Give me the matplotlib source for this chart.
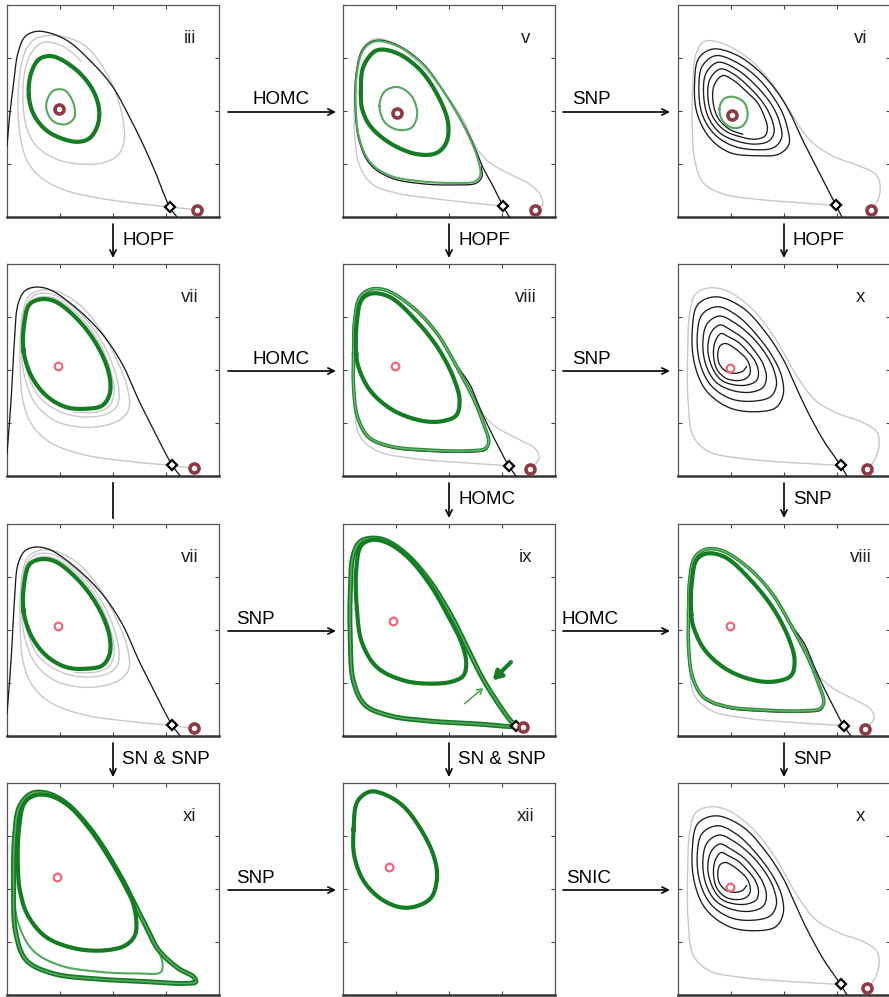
import numpy as np
import matplotlib
matplotlib.use("Agg")
import matplotlib.pyplot as plt

plt.rcParams['font.family'] = ['Liberation Sans', 'DejaVu Sans']

# ---------------------------------------------------------------------------
# Phase-portrait curves, in panel units (each panel spans 0..640 on both axes)
# ---------------------------------------------------------------------------

# panel iii
III_BLACK = [(513, 0), (491, 30), (448, 135), (408, 225), (368, 305), (318, 395), (258, 465),
             (178, 535), (108, 560), (78, 558), (53, 543), (33, 495), (20, 405), (8, 305), (0, 215)]
III_GRAY = [(491, 30), (398, 40), (278, 57), (178, 80), (108, 115), (63, 165), (40, 245), (33, 335),
            (38, 425), (53, 495), (78, 533), (118, 547), (178, 543), (238, 515), (288, 455), (328, 375),
            (350, 295), (353, 225), (333, 185), (288, 163), (218, 160), (148, 175), (88, 215), (58, 275),
            (48, 355), (53, 435), (73, 495), (108, 527), (158, 520), (198, 495), (223, 470)]
III_GRAY_NODE = [(491, 30), (533, 26), (573, 22)]
III_CYCLE = [(66, 365), (73, 435), (98, 477), (138, 485), (208, 445), (258, 385), (278, 325),
             (273, 275), (248, 237), (208, 227), (128, 255), (83, 305)]
III_INNER = [(118, 335), (138, 380), (173, 383), (200, 345), (203, 300), (178, 280), (138, 290)]

# panel v
V_GRAY = [(483, 33), (382, 43), (262, 57), (162, 72), (87, 100), (50, 155), (36, 235), (34, 335),
          (40, 435), (57, 505), (92, 537), (142, 530), (212, 480), (292, 395), (362, 295), (402, 210),
          (442, 165), (502, 130), (562, 100), (597, 65), (602, 35), (579, 22)]
V_BLACK = [(502, 0), (483, 33), (452, 95), (422, 150), (402, 200), (372, 265), (312, 367), (242, 463),
           (162, 520), (97, 533), (60, 507), (40, 435), (37, 325), (48, 233), (80, 161), (142, 119),
           (242, 100), (342, 97), (402, 102), (420, 123), (417, 150)]
V_OUTER = [(39, 325), (42, 435), (62, 505), (97, 530), (162, 517), (242, 460), (312, 365), (372, 260),
           (407, 175), (414, 125), (397, 107), (342, 103), (242, 107), (142, 125), (82, 165), (50, 235)]
V_CYCLE = [(54, 375), (62, 455), (102, 503), (162, 495), (232, 445), (287, 365), (317, 285),
           (312, 225), (282, 193), (222, 190), (142, 223), (82, 275), (58, 325)]
V_INNER = [(110, 335), (127, 380), (167, 392), (207, 365), (224, 310), (207, 270), (167, 263), (127, 285)]

# panel vi
VI_GRAY = [(477, 35), (365, 43), (245, 53), (135, 70), (75, 105), (50, 175), (43, 275), (45, 405),
           (55, 495), (80, 530), (125, 527), (205, 485), (275, 415), (335, 325), (395, 235), (465, 185),
           (545, 155), (600, 125), (610, 75), (595, 35), (583, 20)]
VI_INNER = [(125, 325), (137, 355), (165, 363), (200, 345), (210, 305), (195, 275), (165, 269), (135, 290)]
VI_BLACK = [(495, 0), (477, 35), (415, 155), (375, 235), (343, 305),
            (305, 370), (245, 440), (175, 490), (105, 507), (63, 480), (50, 405), (57, 315), (95, 240),
            (155, 195), (235, 185), (305, 190), (335, 220), (330, 270),
            (310, 325), (250, 410), (180, 465), (113, 487), (73, 455), (63, 390), (73, 310), (110, 250),
            (165, 215), (235, 203), (290, 210), (313, 240), (307, 285),
            (285, 335), (235, 397), (175, 447), (120, 467), (85, 435), (77, 375), (90, 305), (125, 255),
            (175, 230), (235, 220), (275, 230), (290, 255), (283, 295),
            (260, 340), (220, 387), (170, 430), (128, 447), (97, 417), (90, 365), (105, 303), (140, 262),
            (185, 243), (235, 235), (263, 245), (270, 270), (260, 305),
            (240, 345), (205, 380), (167, 413), (135, 427), (110, 400), (105, 355), (120, 300), (155, 265),
            (195, 250)]

# panel vii
VII_BLACK = [(523, 0), (499, 32), (448, 128), (398, 228), (348, 338), (288, 428), (208, 508),
             (128, 563), (83, 570), (53, 558), (33, 518), (23, 418), (16, 288), (8, 168), (0, 68)]
VII_GRAY = [(499, 32), (378, 43), (228, 65), (128, 103), (73, 158), (48, 228), (40, 318), (40, 418),
            (48, 498), (66, 543), (98, 560), (148, 558), (218, 518), (278, 448), (328, 358), (363, 268),
            (368, 203), (343, 171), (288, 151), (218, 148), (143, 168), (86, 218), (56, 288), (44, 368),
            (46, 458), (60, 520), (88, 548), (138, 548), (208, 503), (273, 428), (318, 338), (338, 258),
            (333, 213), (303, 188), (238, 178), (163, 193), (98, 238), (63, 308), (50, 383), (53, 468),
            (70, 518), (98, 540), (148, 535), (218, 483), (278, 403), (313, 318), (323, 248), (308, 210),
            (268, 193), (203, 192)]
VII_GRAY_NODE = [(499, 32), (533, 27), (566, 23)]
VII_CYCLE = [(50, 378), (53, 468), (68, 518), (98, 533), (143, 528), (213, 473), (273, 393),
             (308, 308), (310, 248), (288, 213), (238, 203), (178, 208), (118, 243), (73, 303)]

# panel viii
VIII_GRAY = [(500, 31), (362, 40), (212, 53), (102, 76), (50, 123), (34, 218), (30, 348), (34, 468),
             (47, 540), (80, 565), (127, 563), (212, 508), (292, 418), (362, 288), (412, 198), (462, 148),
             (532, 110), (580, 83), (592, 53), (565, 22)]
VIII_BLACK = [(522, 0), (500, 31), (467, 93), (437, 153), (412, 208), (382, 278), (342, 335),
              (282, 435), (212, 510), (132, 562), (80, 564), (48, 538), (33, 468), (30, 368), (30, 268),
              (42, 176), (75, 115), (142, 86), (262, 74), (382, 72), (432, 79), (442, 100)]
VIII_OUTER = [(32, 368), (35, 468), (50, 538), (82, 563), (132, 560), (212, 508), (282, 433),
              (342, 333), (392, 238), (424, 158), (440, 103), (430, 83), (382, 76), (262, 78),
              (142, 90), (77, 118), (44, 178), (32, 268)]
VIII_CYCLE = [(40, 368), (42, 468), (57, 533), (87, 551), (142, 540), (222, 468), (292, 378),
              (337, 288), (352, 228), (342, 183), (302, 166), (242, 166), (152, 198), (82, 258), (47, 328)]

# panel x
X_GRAY = [(491, 32), (345, 40), (195, 53), (95, 73), (47, 118), (31, 218), (29, 368), (35, 488),
          (53, 550), (95, 568), (150, 558), (225, 503), (295, 413), (355, 308), (415, 228), (485, 188),
          (555, 163), (600, 133), (607, 93), (593, 48), (572, 21)]
X_BLACK = [(510, 0), (491, 32), (445, 98), (405, 168), (375, 228), (350, 283),
           (320, 348), (265, 433), (195, 508), (115, 541), (60, 518), (43, 438), (50, 338), (85, 258),
           (155, 206), (235, 194), (295, 206), (317, 243), (315, 293),
           (290, 353), (240, 423), (180, 483), (120, 511), (73, 488), (58, 423), (67, 338), (100, 273),
           (160, 233), (230, 226), (280, 240), (297, 273), (290, 318),
           (265, 368), (220, 423), (170, 463), (125, 483), (88, 460), (75, 403), (85, 333), (115, 283),
           (165, 258), (220, 253), (257, 268), (267, 298), (257, 338),
           (235, 373), (200, 413), (160, 440), (127, 456), (100, 433), (90, 383), (103, 328), (130, 290),
           (170, 275), (210, 275), (237, 288), (243, 313), (233, 346),
           (210, 376), (183, 403), (153, 420), (130, 430), (113, 408), (107, 368), (117, 323), (143, 296),
           (175, 288), (203, 293), (217, 308), (217, 330), (207, 353),
           (187, 373), (165, 390), (143, 400), (127, 393), (120, 368), (125, 338), (145, 316), (170, 310),
           (195, 316), (207, 330)]

# panel ix
IX_OUTER = [(522, 31), (412, 36), (262, 45), (142, 61), (67, 93), (32, 163), (22, 283), (22, 433),
            (30, 543), (50, 585), (82, 597), (127, 591), (192, 548), (262, 468), (327, 363), (377, 263),
            (422, 173), (472, 93), (507, 45)]
IX_CYCLE = [(42, 383), (40, 503), (54, 573), (82, 591), (127, 586), (192, 543), (262, 458),
            (317, 363), (357, 283), (372, 223), (364, 183), (332, 165), (262, 158), (182, 168),
            (102, 208), (57, 283)]
IX_ARROW_IN = [(507, 223), (452, 168)]
IX_ARROW_OUT = [(367, 98), (424, 145)]

# panel xi
XI_OUTER = [(20, 330), (23, 480), (38, 570), (73, 608), (118, 610), (178, 580), (248, 505),
            (318, 400), (378, 290), (418, 210), (458, 135), (518, 80), (563, 55), (570, 40), (538, 35),
            (428, 40), (278, 48), (138, 65), (58, 105), (26, 190)]
XI_MIDDLE = [(20, 330), (23, 480), (38, 570), (73, 608), (118, 610), (178, 580), (248, 505),
             (318, 400), (378, 290), (423, 210), (456, 140), (470, 90), (463, 68), (398, 65),
             (278, 70), (158, 90), (78, 135), (33, 220)]
XI_CYCLE = [(33, 380), (36, 500), (53, 580), (83, 602), (128, 602), (188, 570), (258, 495),
            (323, 395), (373, 300), (390, 230), (386, 180), (358, 150), (298, 135), (208, 140),
            (118, 175), (63, 240), (40, 310)]

# panel xii
XII_CYCLE = [(32, 500), (44, 585), (82, 614), (127, 605), (182, 570), (232, 505), (272, 425),
             (284, 360), (267, 295), (222, 268), (172, 265), (112, 292), (62, 345), (34, 420)]

# equilibria per panel (rows top to bottom, columns left to right)
PANEL_LABELS = [["iii", "v", "vi"], ["vii", "viii", "x"], ["vii", "ix", "viii"], ["xi", "xii", "x"]]
FOCUS_XY = [[(158, 325), (162, 315), (163, 308)],
            [(155, 331), (157, 331), (157, 325)],
            [(155, 331), (152, 348), (157, 331)],
            [(150, 355), (139, 387), (157, 325)]]
FOCUS_STABLE = [[True, True, True], [False, False, False], [False, False, False], [False, False, False]]
SADDLE_XY = [[(491, 30), (483, 33), (477, 35)],
             [(499, 32), (500, 31), (491, 32)],
             [(499, 32), (522, 31), (500, 31)],
             [None, None, (491, 32)]]
NODE_XY = [[(573, 22), (579, 22), (583, 20)],
           [(566, 23), (565, 22), (572, 21)],
           [(566, 23), (542, 28), (565, 22)],
           [None, None, (572, 21)]]

# transitions between panels
H_LABELS = [["HOMC", "SNP"], ["HOMC", "SNP"], ["SNP", "HOMC"], ["SNP", "SNIC"]]
H_LABEL_X = [[281, 591], [281, 591], [255, 590], [255, 589]]
V_LABELS = [["HOPF", "HOPF", "HOPF"], [None, "HOMC", "SNP"], ["SN & SNP", "SN & SNP", "SNP"]]
V_HEADS = [[True, True, True], [False, True, True], [True, True, True]]


# ---------------------------------------------------------------------------
def catmull_rom(points, closed=False, samples=14):
    """Centripetal Catmull-Rom spline through the given points."""
    P = np.asarray(points, float)
    if closed:
        P = np.vstack([P[-1], P, P[0], P[1]])
    else:
        P = np.vstack([2 * P[0] - P[1], P, 2 * P[-1] - P[-2]])
    out = []
    for i in range(len(P) - 3):
        p0, p1, p2, p3 = P[i:i + 4]
        t0 = 0.0
        t1 = t0 + max(np.linalg.norm(p1 - p0), 1e-6) ** 0.5
        t2 = t1 + max(np.linalg.norm(p2 - p1), 1e-6) ** 0.5
        t3 = t2 + max(np.linalg.norm(p3 - p2), 1e-6) ** 0.5
        t = np.linspace(t1, t2, samples, endpoint=False)[:, None]
        a1 = (t1 - t) / (t1 - t0) * p0 + (t - t0) / (t1 - t0) * p1
        a2 = (t2 - t) / (t2 - t1) * p1 + (t - t1) / (t2 - t1) * p2
        a3 = (t3 - t) / (t3 - t2) * p2 + (t - t2) / (t3 - t2) * p3
        b1 = (t2 - t) / (t2 - t0) * a1 + (t - t0) / (t2 - t0) * a2
        b2 = (t3 - t) / (t3 - t1) * a2 + (t - t1) / (t3 - t1) * a3
        out.append((t2 - t) / (t2 - t1) * b1 + (t - t1) / (t2 - t1) * b2)
    out.append(P[-2][None, :])
    return np.vstack(out)


GREEN_DARK = "#147d24"
GREEN_LIGHT = "#52a95c"
GRAY = "#c8c8c8"
BLACK = "#1c1c1c"
RED = "#8e3a46"
PINK = "#f0667c"


def draw(ax, pts, kind, closed=False):
    xy = catmull_rom(pts, closed)
    if kind == "gray":
        ax.plot(xy[:, 0], xy[:, 1], color=GRAY, lw=1.0, solid_capstyle="round", zorder=2)
    elif kind == "black":
        ax.plot(xy[:, 0], xy[:, 1], color=BLACK, lw=0.95, zorder=3)
    elif kind == "thick":
        ax.plot(xy[:, 0], xy[:, 1], color=GREEN_DARK, lw=3.0, zorder=5)
    elif kind == "thin":
        ax.plot(xy[:, 0], xy[:, 1], color=GREEN_LIGHT, lw=1.5, zorder=4)
    elif kind == "band":
        ax.plot(xy[:, 0], xy[:, 1], color="#2a8a36", lw=2.6, zorder=4)
        ax.plot(xy[:, 0], xy[:, 1], color="#76bd7b", lw=0.8, zorder=4)
    elif kind == "wideband":
        ax.plot(xy[:, 0], xy[:, 1], color=GREEN_DARK, lw=3.6, zorder=5)
        ax.plot(xy[:, 0], xy[:, 1], color="#5aaa62", lw=1.1, zorder=5)


PANEL_CURVES = [
    [
        [(III_GRAY, "gray", False), (III_GRAY_NODE, "gray", False), (III_BLACK, "black", False),
         (III_CYCLE, "thick", True), (III_INNER, "thin", True)],
        [(V_GRAY, "gray", False), (V_BLACK, "black", False), (V_OUTER, "thin", True),
         (V_CYCLE, "thick", True), (V_INNER, "thin", True)],
        [(VI_GRAY, "gray", False), (VI_BLACK, "black", False), (VI_INNER, "thin", True)],
    ],
    [
        [(VII_GRAY, "gray", False), (VII_GRAY_NODE, "gray", False), (VII_BLACK, "black", False),
         (VII_CYCLE, "thick", True)],
        [(VIII_GRAY, "gray", False), (VIII_BLACK, "black", False), (VIII_OUTER, "band", True),
         (VIII_CYCLE, "thick", True)],
        [(X_GRAY, "gray", False), (X_BLACK, "black", False)],
    ],
    [
        [(VII_GRAY, "gray", False), (VII_GRAY_NODE, "gray", False), (VII_BLACK, "black", False),
         (VII_CYCLE, "thick", True)],
        [(IX_OUTER, "wideband", True), (IX_CYCLE, "thick", True)],
        [(VIII_GRAY, "gray", False), (VIII_BLACK, "black", False), (VIII_OUTER, "band", True),
         (VIII_CYCLE, "thick", True)],
    ],
    [
        [(XI_MIDDLE, "thin", True), (XI_OUTER, "wideband", True), (XI_CYCLE, "thick", True)],
        [(XII_CYCLE, "thick", True)],
        [(X_GRAY, "gray", False), (X_BLACK, "black", False)],
    ],
]

W, H = 889, 997
fig = plt.figure(figsize=(W / 100, H / 100), dpi=100)

COL_LEFT = [7, 343, 678]
ROW_TOP = [5, 264, 524, 783]
SIZE = 212

for r in range(4):
    for c in range(3):
        ax = fig.add_axes([COL_LEFT[c] / W, 1 - (ROW_TOP[r] + SIZE) / H, SIZE / W, SIZE / H])
        ax.set_xlim(0, 640)
        ax.set_ylim(0, 640)
        ax.set_xticks([160, 320, 480])
        ax.set_yticks([160, 320, 480])
        ax.set_xticklabels([])
        ax.set_yticklabels([])
        ax.tick_params(direction="in", length=3, width=0.8, colors="#444444",
                       top=True, right=True)
        for name, sp in ax.spines.items():
            sp.set_color("#555555")
            sp.set_linewidth(0.9)
        ax.spines["bottom"].set_linewidth(1.8)
        ax.spines["bottom"].set_color("#333333")

        for pts, kind, closed in PANEL_CURVES[r][c]:
            draw(ax, pts, kind, closed)

        if PANEL_LABELS[r][c] == "ix":
            ax.annotate("", xy=IX_ARROW_IN[1], xytext=IX_ARROW_IN[0],
                        arrowprops=dict(arrowstyle="-|>,head_length=0.5,head_width=0.3",
                                        color=GREEN_DARK, lw=3.0, shrinkA=0, shrinkB=0), zorder=6)
            ax.annotate("", xy=IX_ARROW_OUT[1], xytext=IX_ARROW_OUT[0],
                        arrowprops=dict(arrowstyle="->,head_length=0.35,head_width=0.2",
                                        color=GREEN_LIGHT, lw=1.2, shrinkA=0, shrinkB=0), zorder=6)

        fx, fy = FOCUS_XY[r][c]
        if FOCUS_STABLE[r][c]:
            ax.plot(fx, fy, "o", ms=6.5, mfc="white", mec=RED, mew=2.6, zorder=8)
        else:
            ax.plot(fx, fy, "o", ms=5.5, mfc="white", mec=PINK, mew=1.6, zorder=8)
        if SADDLE_XY[r][c] is not None:
            sx, sy = SADDLE_XY[r][c]
            ax.plot(sx, sy, "D", ms=5.0, mfc="white", mec="black", mew=1.6, zorder=9)
        if NODE_XY[r][c] is not None:
            nx, ny = NODE_XY[r][c]
            ax.plot(nx, ny, "o", ms=6.5, mfc="white", mec=RED, mew=2.6, zorder=9)

        ax.text(552, 540, PANEL_LABELS[r][c], ha="center", va="center", fontsize=13.5, color="#222222")

# transition arrows drawn on a full-figure overlay in pixel units
ov = fig.add_axes([0, 0, 1, 1])
ov.set_xlim(0, W)
ov.set_ylim(H, 0)
ov.axis("off")
ov.patch.set_alpha(0)

arrow_kw = dict(arrowstyle="->,head_length=0.45,head_width=0.22", color="black", lw=1.2,
                shrinkA=0, shrinkB=0)
gaps = [(COL_LEFT[0] + SIZE + 9, COL_LEFT[1] - 7), (COL_LEFT[1] + SIZE + 8, COL_LEFT[2] - 8)]
for r in range(4):
    y = ROW_TOP[r] + 107
    for g, (x0, x1) in enumerate(gaps):
        ov.annotate("", xy=(x1, y), xytext=(x0, y), arrowprops=arrow_kw)
        ov.text(H_LABEL_X[r][g], y - 12, H_LABELS[r][g], ha="center", va="center", fontsize=13.5)

for r in range(3):
    y0 = ROW_TOP[r] + SIZE + 7
    y1 = ROW_TOP[r + 1] - 6
    for c in range(3):
        x = COL_LEFT[c] + SIZE / 2
        if V_HEADS[r][c]:
            ov.annotate("", xy=(x, y1), xytext=(x, y0), arrowprops=arrow_kw)
        else:
            ov.plot([x, x], [y0, y1], color="black", lw=1.2)
        if V_LABELS[r][c]:
            ov.text(x + 9, (y0 + y1) / 2 - 1, V_LABELS[r][c], ha="left", va="center", fontsize=13.5)

fig.savefig("out.png", dpi=100)
